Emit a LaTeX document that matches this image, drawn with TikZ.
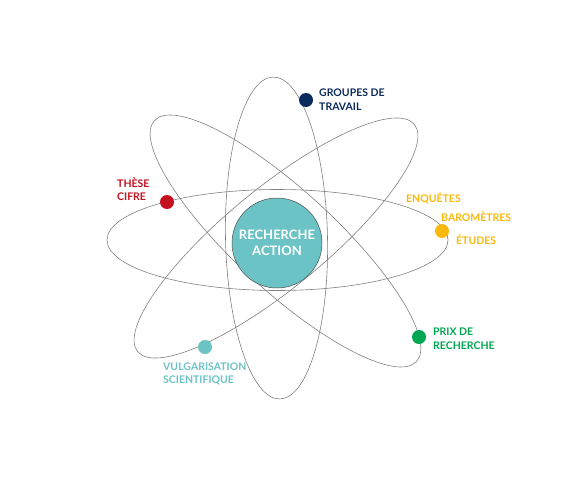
\documentclass[tikz,border=0pt]{standalone}
\usepackage{fontspec}
\setmainfont{Lato}
\definecolor{cnavy}{HTML}{0B2A5E}
\definecolor{cred}{HTML}{C4101F}
\definecolor{cyel}{HTML}{F9B80E}
\definecolor{cgreen}{HTML}{00A651}
\definecolor{cteal}{HTML}{6CC3C5}
\definecolor{corbit}{HTML}{808080}
\begin{document}
\begin{tikzpicture}[x=1pt,y=-1pt,
  orbit/.style={draw=corbit,line width=0.6pt},
  dot/.style={circle,minimum size=14pt,inner sep=0pt},
  lbl/.style={font=\bfseries\fontsize{10.5}{13.5}\selectfont,align=left,anchor=west,inner sep=0pt}]
\useasboundingbox (0,0) rectangle (567,490);
\coordinate (c) at (277.5,240);
\draw[orbit] (c) ellipse [x radius=170.5, y radius=50.5];
\draw[orbit,rotate around={1.2:(276.5,238)}] (276.5,238) ellipse [x radius=51, y radius=161];
\draw[orbit,rotate around={-42.6:(285.5,241)}] (285.5,241) ellipse [x radius=178, y radius=50];
\draw[orbit,rotate around={39.4:(276,238)}] (276,238) ellipse [x radius=179, y radius=50];
\node[circle,fill=cteal,draw=black!70,line width=0.5pt,minimum size=90pt,inner sep=0pt,
  font=\bfseries\fontsize{13}{15.5}\selectfont,text=white,align=center] (core) at (277,243) {RECHERCHE\\ACTION};
\node[dot,fill=cnavy] (d1) at (306,100) {};
\node[dot,fill=cred] (d2) at (167,202) {};
\node[dot,fill=cyel] (d3) at (442,231) {};
\node[dot,fill=cgreen] (d4) at (419,337) {};
\node[dot,fill=cteal] (d5) at (205,347) {};
\node[lbl,text=cnavy] (t1) at (319,99.5) {GROUPES DE\\TRAVAIL};
\node[lbl,text=cred] (t2) at (117,189) {THÈSE\\CIFRE};
\node[lbl,text=cyel] (t3a) at (406,198) {ENQUÊTES};
\node[lbl,text=cyel] (t3b) at (441,217) {BAROMÈTRES};
\node[lbl,text=cyel] (t3c) at (456,240) {ÉTUDES};
\node[lbl,text=cgreen] (t4) at (433,338.5) {PRIX DE\\RECHERCHE};
\node[lbl,text=cteal] (t5) at (163,374) {VULGARISATION\\SCIENTIFIQUE};
\end{tikzpicture}
\end{document}
